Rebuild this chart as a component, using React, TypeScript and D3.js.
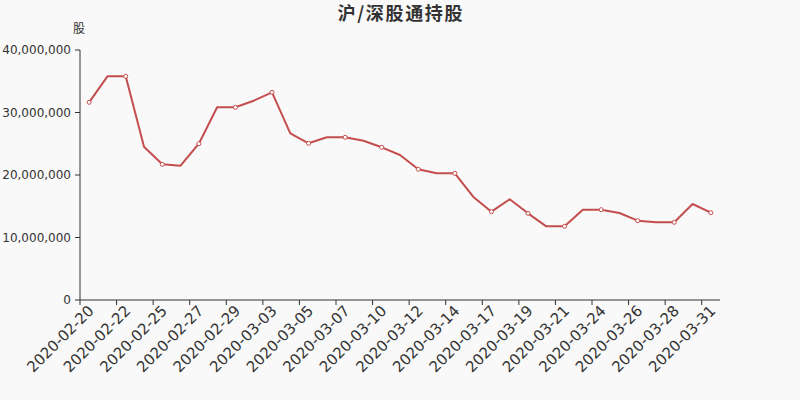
import * as d3 from "d3";
import { useEffect } from "react";

const dates = [
  "2020-02-20", "2020-02-21", "2020-02-22", "2020-02-24", "2020-02-25",
  "2020-02-26", "2020-02-27", "2020-02-28", "2020-02-29", "2020-03-02",
  "2020-03-03", "2020-03-04", "2020-03-05", "2020-03-06", "2020-03-07",
  "2020-03-09", "2020-03-10", "2020-03-11", "2020-03-12", "2020-03-13",
  "2020-03-14", "2020-03-16", "2020-03-17", "2020-03-18", "2020-03-19",
  "2020-03-20", "2020-03-21", "2020-03-23", "2020-03-24", "2020-03-25",
  "2020-03-26", "2020-03-27", "2020-03-28", "2020-03-30", "2020-03-31",
];

const holdings = [
  31630000, 35790000, 35790000, 24530000, 21710000,
  21490000, 25010000, 30830000, 30830000, 31890000,
  33230000, 26670000, 25070000, 26030000, 26030000,
  25490000, 24430000, 23200000, 20910000, 20270000,
  20270000, 16530000, 14130000, 16110000, 13870000,
  11790000, 11790000, 14450000, 14450000, 13920000,
  12690000, 12430000, 12430000, 15360000, 13970000,
];

const yTicks = [0, 10000000, 20000000, 30000000, 40000000];

const TITLE = "沪/深股通持股";
const UNIT = "股";

const WIDTH = 800;
const HEIGHT = 400;
const MARGIN = { top: 50, right: 80, bottom: 100, left: 80 };
const LINE_COLOR = "#c44d4d";
const AXIS_COLOR = "#333";

export default function App() {
  useEffect(() => {
    document.body.style.margin = "0";
  }, []);

  const x = d3
    .scaleBand<string>()
    .domain(dates)
    .range([MARGIN.left, WIDTH - MARGIN.right])
    .padding(0);
  const y = d3
    .scaleLinear()
    .domain([0, 40000000])
    .range([HEIGHT - MARGIN.bottom, MARGIN.top]);

  const cx = (d: string) => (x(d) ?? 0) + x.bandwidth() / 2;
  const points = dates.map((d, i) => ({ date: d, value: holdings[i], i }));
  const line = d3
    .line<(typeof points)[number]>()
    .x((p) => cx(p.date))
    .y((p) => y(p.value));

  const fmt = d3.format(",");
  const baseY = y(0);
  const labelled = dates.filter((_, i) => i % 2 === 0);

  return (
    <svg
      width={WIDTH}
      height={HEIGHT}
      style={{ display: "block", background: "#f9f9f9" }}
      fontFamily="'DejaVu Sans', sans-serif"
    >
      <text
        x={400}
        y={20}
        textAnchor="middle"
        fontSize={18}
        fontWeight="bold"
        fill={AXIS_COLOR}
        fontFamily="'Noto Sans CJK SC', sans-serif"
        textLength={125}
        lengthAdjust="spacing"
      >
        {TITLE}
      </text>
      <text
        x={MARGIN.left - 1}
        y={33}
        textAnchor="middle"
        fontSize={12}
        fill={AXIS_COLOR}
        fontFamily="'Noto Sans CJK SC', sans-serif"
      >
        {UNIT}
      </text>

      {/* y axis */}
      <line
        x1={MARGIN.left}
        x2={MARGIN.left}
        y1={y(40000000)}
        y2={baseY}
        stroke={AXIS_COLOR}
      />
      {yTicks.map((t) => (
        <g key={t} transform={`translate(0,${y(t)})`}>
          <line x1={MARGIN.left - 5} x2={MARGIN.left} stroke={AXIS_COLOR} />
          <text
            x={MARGIN.left - 9}
            dy="0.35em"
            textAnchor="end"
            fontSize={12}
            fill={AXIS_COLOR}
          >
            {fmt(t)}
          </text>
        </g>
      ))}

      {/* x axis */}
      <line
        x1={MARGIN.left}
        x2={WIDTH - MARGIN.right}
        y1={baseY}
        y2={baseY}
        stroke={AXIS_COLOR}
      />
      {labelled.map((d) => (
        <g key={d}>
          <line
            x1={x(d)}
            x2={x(d)}
            y1={baseY}
            y2={baseY + 5}
            stroke={AXIS_COLOR}
          />
          <text
            transform={`translate(${cx(d) + 2},${baseY + 8}) rotate(-45)`}
            textAnchor="end"
            dy="0.35em"
            fontSize={15}
            fill={AXIS_COLOR}
          >
            {d}
          </text>
        </g>
      ))}

      <path
        d={line(points) ?? ""}
        fill="none"
        stroke={LINE_COLOR}
        strokeWidth={2}
        strokeLinejoin="round"
      />
      {points
        .filter((p) => p.i % 2 === 0)
        .map((p) => (
          <circle
            key={p.date}
            cx={cx(p.date)}
            cy={y(p.value)}
            r={2}
            fill="#fff"
            stroke={LINE_COLOR}
            strokeWidth={1}
          />
        ))}
    </svg>
  );
}
